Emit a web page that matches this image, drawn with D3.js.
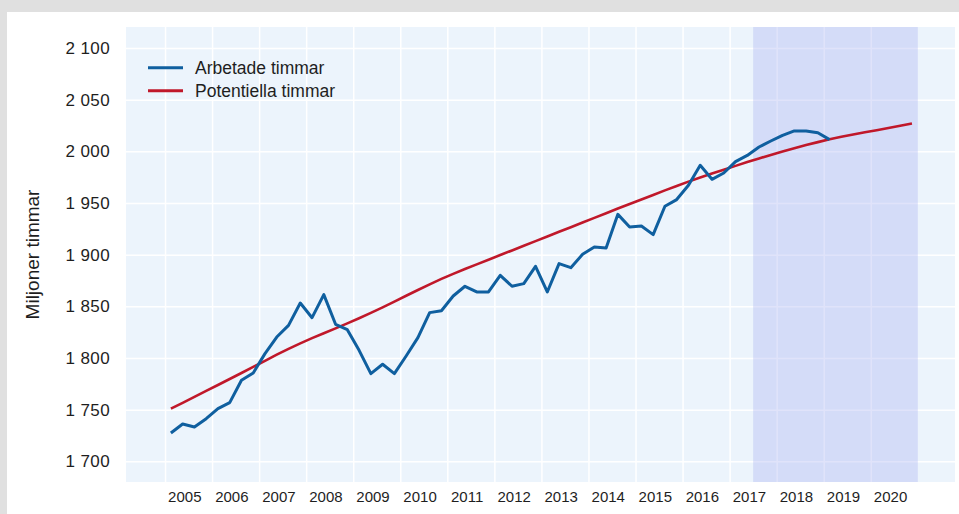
<!DOCTYPE html>
<html>
<head>
<meta charset="utf-8">
<script src="https://cdn.jsdelivr.net/npm/d3@7"></script>
<style>
  html, body { margin: 0; padding: 0; background: #e0e0e0; }
  svg { display: block; font-family: "Liberation Sans", Arial, sans-serif; }
</style>
</head>
<body>
<div id="chart"></div>
<script>
// årtal på x-axeln
const years = d3.range(2005, 2021);
// y-axelns tick-värden
const yTicks = [1700, 1750, 1800, 1850, 1900, 1950, 2000, 2050, 2100];

// Arbetade timmar, kvartal från 2005K1 till 2019K1
const worked = [
  1727.4, 1736.1, 1733.2, 1741.3,
  1751.0, 1756.8, 1778.4, 1785.5,
  1804.2, 1820.3, 1831.6, 1853.2,
  1839.0, 1861.3, 1832.6, 1827.4,
  1807.4, 1784.9, 1793.9, 1784.9,
  1801.9, 1819.7, 1843.9, 1845.7,
  1860.0, 1869.4, 1863.9, 1863.9,
  1880.0, 1869.4, 1872.0, 1888.7,
  1863.9, 1891.3, 1887.4, 1900.3,
  1907.4, 1906.4, 1939.0, 1926.8,
  1927.7, 1919.4, 1946.8, 1953.3,
  1967.1, 1986.5, 1972.9, 1979.0,
  1990.0, 1996.0, 2004.2, 2010.0,
  2015.5, 2019.7, 2019.7, 2018.0,
  2011.3
];

// Potentiella timmar, kvartal från 2005K1 till 2020K4
const potential = [
  1751.0, 1756.6, 1762.4, 1768.2,
  1773.9, 1779.7, 1785.5, 1791.4,
  1797.3, 1803.2, 1808.8, 1814.2,
  1819.2, 1824.0, 1828.7, 1833.5,
  1838.5, 1843.7, 1849.0, 1854.6,
  1860.2, 1865.8, 1871.3, 1876.5,
  1881.4, 1886.1, 1890.6, 1895.1,
  1899.6, 1904.1, 1908.6, 1913.1,
  1917.6, 1922.1, 1926.6, 1931.1,
  1935.6, 1940.1, 1944.6, 1949.0,
  1953.4, 1957.8, 1962.2, 1966.5,
  1970.7, 1974.7, 1978.5, 1982.2,
  1985.9, 1989.6, 1993.1, 1996.5,
  1999.8, 2003.0, 2006.0, 2008.9,
  2011.7, 2014.1, 2016.3, 2018.4,
  2020.4, 2022.6, 2024.7, 2026.9
];

// prognosperiod (skuggad)
const forecastStart = 2017.5;
const forecastEnd = 2021;

const series = [
  { name: 'Arbetade timmar', values: worked, color: '#0f5f9f', width: 3 },
  { name: 'Potentiella timmar', values: potential, color: '#c0182a', width: 2.6 }
];

const W = 959, H = 514;
const margin = { top: 27, right: 4, bottom: 32, left: 126 };
const innerW = W - margin.left - margin.right;
const innerH = H - margin.top - margin.bottom;

// kvartal -> decimalår (mitt i kvartalet)
const quarterTime = i => 2005 + (i + 0.5) / 4;

const x = d3.scaleLinear()
  .domain([2004.171, 2021.79])
  .range([0, innerW]);

const y = d3.scaleLinear()
  .domain([1680, 2120.3])
  .range([innerH, 0]);

const svg = d3.select('#chart').append('svg')
  .attr('width', W)
  .attr('height', H);

// vit panel
svg.append('rect')
  .attr('x', 7).attr('y', 12)
  .attr('width', W - 7).attr('height', H - 12)
  .attr('fill', '#ffffff');

const g = svg.append('g')
  .attr('transform', `translate(${margin.left},${margin.top})`);

g.append('rect')
  .attr('width', innerW)
  .attr('height', innerH)
  .attr('fill', '#ecf4fc');

// rutnät
g.append('g')
  .call(d3.axisLeft(y).tickValues(yTicks).tickSize(-innerW).tickFormat(''))
  .call(a => a.select('.domain').remove())
  .call(a => a.selectAll('line').attr('stroke', '#ffffff').attr('stroke-width', 1.5));

g.append('g')
  .attr('transform', `translate(0,${innerH})`)
  .call(d3.axisBottom(x).tickValues(years).tickSize(innerH).tickFormat(''))
  .call(a => a.select('.domain').remove())
  .call(a => a.selectAll('line').attr('stroke', '#ffffff').attr('stroke-width', 1.5)
    .attr('transform', `translate(0,${-innerH})`));

// prognosskuggning
g.append('rect')
  .attr('x', x(forecastStart))
  .attr('y', 0)
  .attr('width', x(forecastEnd) - x(forecastStart))
  .attr('height', innerH)
  .attr('fill', 'rgb(178,184,242)')
  .attr('fill-opacity', 0.4);

// linjer
const line = d3.line()
  .x((d, i) => x(quarterTime(i)))
  .y(d => y(d));

series.slice().reverse().forEach(s => {
  g.append('path')
    .datum(s.values)
    .attr('d', line)
    .attr('fill', 'none')
    .attr('stroke', s.color)
    .attr('stroke-width', s.width)
    .attr('stroke-linejoin', 'round');
});

// y-axel
g.append('g')
  .call(d3.axisLeft(y).tickValues(yTicks).tickSize(0).tickPadding(16)
    .tickFormat(d => d3.format(',')(d).replace(',', ' ')))
  .call(a => a.select('.domain').remove())
  .call(a => a.selectAll('text')
    .attr('fill', '#1e1e1e')
    .style('font-size', '17px')
    .style('letter-spacing', '0.4px'));

// x-axel, etiketter en bit in i året
g.append('g')
  .attr('transform', `translate(0,${innerH})`)
  .call(d3.axisBottom(x).tickValues(years).tickSize(0).tickPadding(9).tickFormat(d3.format('d')))
  .call(a => a.select('.domain').remove())
  .call(a => a.selectAll('text')
    .attr('fill', '#1e1e1e')
    .attr('dx', x(2005.41) - x(2005))
    .style('font-size', '15px'));

// y-axelns titel
svg.append('text')
  .attr('transform', `translate(39,${margin.top + innerH / 2}) rotate(-90)`)
  .attr('text-anchor', 'middle')
  .attr('fill', '#1e1e1e')
  .style('font-size', '19px')
  .text('Miljoner timmar');

// teckenförklaring
const legend = svg.append('g').attr('transform', 'translate(148,67.7)');
series.forEach((s, i) => {
  const row = legend.append('g').attr('transform', `translate(0,${i * 23})`);
  row.append('line')
    .attr('x1', 0).attr('x2', 35)
    .attr('stroke', s.color)
    .attr('stroke-width', 3);
  row.append('text')
    .attr('x', 47)
    .attr('y', 6)
    .attr('fill', '#1e1e1e')
    .style('font-size', '17.5px')
    .text(s.name);
});
</script>
</body>
</html>
